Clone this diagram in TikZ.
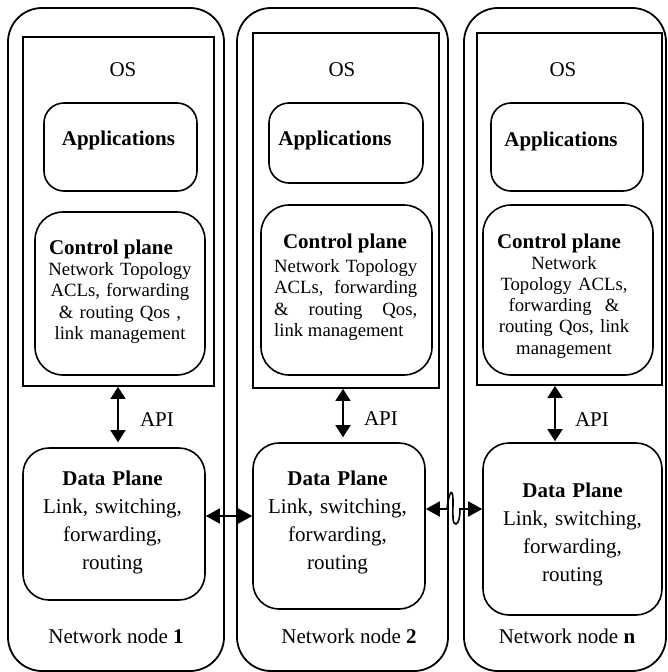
\documentclass[tikz,border=0pt]{standalone}
\usepackage{fontspec}
\setmainfont{Liberation Serif}
\usetikzlibrary{arrows.meta}
\begin{document}
\begin{tikzpicture}[x=1pt,y=-1pt,
  outerbox/.style={draw, line width=1.8pt, rounded corners=34pt, inner sep=0pt},
  osbox/.style={draw, line width=1.8pt, inner sep=0pt},
  appbox/.style={draw, line width=1.6pt, rounded corners=20pt, inner sep=0pt},
  cpbox/.style={draw, line width=1.6pt, rounded corners=28pt, inner sep=0pt},
  dpbox/.style={draw, line width=1.6pt, rounded corners=26pt, inner sep=0pt},
  lbl/.style={inner sep=0pt, anchor=base, font=\fontsize{21}{28}\selectfont},
  cptitle/.style={inner sep=0pt, anchor=base, font=\fontsize{21}{24}\selectfont\bfseries},
  cpbody/.style={inner sep=0pt, anchor=base, font=\fontsize{18.7}{21.5}\selectfont},
  dptext/.style={inner sep=0pt, anchor=base, text width=170pt, align=center,
    font=\fontsize{21}{28}\selectfont},
  vdbl/.style={line width=1.6pt,
    {Triangle[length=12pt,width=15pt]}-{Triangle[length=12pt,width=15pt]}},
  hdbl/.style={line width=1.6pt,
    {Triangle[length=14pt,width=15pt]}-{Triangle[length=14pt,width=15pt]}}
]
\useasboundingbox (0,0) rectangle (668,672);

% ---------- outer node frames ----------
\node[outerbox, minimum width=216pt, minimum height=663pt] (n1) at (116,339.5) {};
\node[outerbox, minimum width=211pt, minimum height=663pt] (n2) at (342.5,339.5) {};
\node[outerbox, minimum width=202pt, minimum height=663pt] (nn) at (565,339.5) {};

% ---------- OS boxes ----------
\node[osbox, minimum width=191pt, minimum height=349pt] (os1) at (118.5,211.5) {};
\node[osbox, minimum width=186pt, minimum height=355pt] (os2) at (346,210.5) {};
\node[osbox, minimum width=185pt, minimum height=352pt] (osn) at (569.5,209) {};
\node[lbl] (ost1) at (123,76) {OS};
\node[lbl] (ost2) at (342,76) {OS};
\node[lbl] (ostn) at (563,76) {OS};

% ---------- Applications ----------
\node[appbox, minimum width=153pt, minimum height=88pt] (app1) at (120.5,147) {};
\node[appbox, minimum width=154pt, minimum height=80pt] (app2) at (346,143) {};
\node[appbox, minimum width=152pt, minimum height=88pt] (appn) at (567,147) {};
\node[lbl, font=\fontsize{21}{28}\selectfont\bfseries] (appt1) at (118.5,145) {Applications};
\node[lbl, font=\fontsize{21}{28}\selectfont\bfseries] (appt2) at (335,145) {Applications};
\node[lbl, font=\fontsize{21}{28}\selectfont\bfseries] (apptn) at (561,146) {Applications};

% ---------- Control plane ----------
\node[cpbox, minimum width=170pt, minimum height=163pt] (cp1) at (120,293.5) {};
\node[cpbox, minimum width=171pt, minimum height=170pt] (cp2) at (346.5,290) {};
\node[cpbox, minimum width=170pt, minimum height=170pt] (cpn) at (568,290) {};

\node[cptitle] (cpt1) at (111,254) {Control plane};
\node[cptitle] (cpt2) at (345,248) {Control plane};
\node[cptitle] (cptn) at (559,248) {Control plane};

\node[cpbody, text width=170pt, align=center] (cpb1) at (120,275)
  {Network Topology\\ACLs, forwarding\\\& routing Qos ,\\link management};
\node[cpbody, anchor=base west, text width=143pt, align=justify] (cpb2) at (274,272)
  {\hyphenpenalty=10000 Network Topology\linebreak ACLs, forwarding\linebreak
   \& routing Qos,\linebreak link management};
\node[cpbody, text width=168pt, align=center,
  font=\fontsize{18.7}{21.3}\selectfont] (cpbn) at (564,269)
  {Network\\Topology ACLs,\\forwarding\hspace{7pt} \&\\routing Qos, link\\management};

% ---------- Data plane ----------
\node[dpbox, minimum width=182pt, minimum height=152pt] (dp1) at (114,524) {};
\node[dpbox, minimum width=172pt, minimum height=166pt] (dp2) at (339,526) {};
\node[dpbox, minimum width=179pt, minimum height=172pt] (dpn) at (572.5,529) {};

\node[dptext] (dpt1) at (112.5,485)
  {\textbf{Data Plane}\\Link, switching,\\forwarding,\\routing};
\node[dptext] (dpt2) at (337.5,485)
  {\textbf{Data Plane}\\Link, switching,\\forwarding,\\routing};
\node[dptext] (dptn) at (572.5,497)
  {\textbf{Data Plane}\\Link, switching,\\forwarding,\\routing};

% ---------- API links ----------
\coordinate (ax1) at (118,0);
\coordinate (ax2) at (343,0);
\coordinate (axn) at (555,0);
\draw[vdbl, shorten >=5pt] (os1.south -| ax1) -- (dp1.north -| ax1);
\draw[vdbl, shorten >=5pt] (os2.south -| ax2) -- (dp2.north -| ax2);
\draw[vdbl, shorten >=1pt] (osn.south -| axn) -- (dpn.north -| axn);
\node[lbl] (api1) at (157,426) {API};
\node[lbl] (api2) at (381,425) {API};
\node[lbl] (apin) at (592,426) {API};

% ---------- links between data planes ----------
\coordinate (h1) at (0,516);
\coordinate (h2) at (0,509);
\draw[hdbl] (dp1.east |- h1) -- (dp2.west |- h1);
\draw[hdbl] (dp2.east |- h2) -- (447,509)
  .. controls (449,490) and (453,488) .. (453,500)
  .. controls (453,514) and (452,525) .. (456,524)
  .. controls (459,523) and (460,516) .. (460,509)
  -- (dpn.west |- h2);

% ---------- node captions ----------
\node[lbl] (cap1) at (116,643) {Network node \textbf{1}};
\node[lbl] (cap2) at (349,643) {Network node \textbf{2}};
\node[lbl] (capn) at (567,643) {Network node \textbf{n}};
\end{tikzpicture}
\end{document}
